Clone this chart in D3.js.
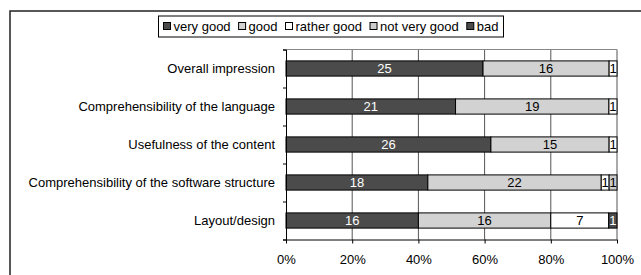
<!DOCTYPE html>
<html>
<head>
<meta charset="utf-8">
<script src="https://cdn.jsdelivr.net/npm/d3@7"></script>
<style>
  body { margin: 0; background: #fff; }
  svg text { font-family: "Liberation Sans", Arial, sans-serif; font-size: 13px; fill: #000; }
</style>
</head>
<body>
<svg id="chart"></svg>
<script>
var categories = ["Overall impression", "Comprehensibility of the language", "Usefulness of the content",
                  "Comprehensibility of the software structure", "Layout/design"]
var seriesNames = ["very good", "good", "rather good", "not very good", "bad"]
var veryGood    = [25, 21, 26, 18, 16]
var good        = [16, 19, 15, 22, 16]
var ratherGood  = [1, 1, 1, 1, 7]
var notVeryGood = [0, 0, 0, 1, 0]
var bad         = [0, 0, 0, 0, 1]
var tickValues  = [0, 0.2, 0.4, 0.6, 0.8, 1]

var colors = ["#4b4b4b", "#d2d2d2", "#ffffff", "#cccccc", "#4b4b4b"]
var textColors = ["#fff", "#000", "#000", "#000", "#fff"]

var screen = {width: 641, height: 275}
var plot = {left: 286, right: 617, top: 49.5, bottom: 239.5}

var svg = d3.select("#chart")
    .attr("width", screen.width)
    .attr("height", screen.height)

// outer frame (cut off right and bottom in the original)
svg.append("rect")
    .attr("x", 10).attr("y", 11)
    .attr("width", 700).attr("height", 400)
    .attr("fill", "none")
    .attr("stroke", "#222")
    .attr("stroke-width", 1.5)

var rows = categories.map(function (c, i) {
    return {cat: c, vals: [veryGood[i], good[i], ratherGood[i], notVeryGood[i], bad[i]]}
})

var xScale = d3.scaleLinear().domain([0, 1]).range([plot.left, plot.right])
var yScale = d3.scaleBand().domain(categories)
    .range([plot.top, plot.bottom])
    .paddingInner(0.6).paddingOuter(0.3)

// gridlines
svg.append("g").selectAll("line")
    .data(tickValues.slice(1))
    .enter().append("line")
    .attr("x1", function (d) { return xScale(d) })
    .attr("x2", function (d) { return xScale(d) })
    .attr("y1", plot.top).attr("y2", plot.bottom)
    .attr("stroke", "#555")
svg.append("line")
    .attr("x1", plot.left).attr("x2", plot.right)
    .attr("y1", plot.top).attr("y2", plot.top)
    .attr("stroke", "#888")

// stacked bars
var bars = svg.append("g")
rows.forEach(function (r) {
    var total = d3.sum(r.vals)
    var acc = 0
    r.vals.forEach(function (v, k) {
        if (v === 0) return
        var x0 = xScale(acc / total), x1 = xScale((acc + v) / total)
        acc += v
        bars.append("rect")
            .attr("x", x0).attr("y", yScale(r.cat))
            .attr("width", x1 - x0).attr("height", yScale.bandwidth())
            .attr("fill", colors[k])
            .attr("stroke", "#000").attr("stroke-width", 1)
        bars.append("text")
            .attr("x", (x0 + x1) / 2)
            .attr("y", yScale(r.cat) + yScale.bandwidth() / 2)
            .attr("dy", "0.36em")
            .attr("text-anchor", "middle")
            .style("fill", textColors[k])
            .text(v)
    })
})

// axes
var yAxis = d3.axisLeft(d3.scaleLinear().domain([0, 5]).range([plot.top, plot.bottom]))
    .ticks(5).tickSize(3).tickFormat("")
var ya = svg.append("g").attr("transform", "translate(" + plot.left + ",0)").call(yAxis)
ya.select(".domain").attr("stroke", "#000")

var xAxis = d3.axisBottom(xScale).tickValues(tickValues).tickSize(4)
    .tickFormat(d3.format(".0%"))
var xa = svg.append("g").attr("transform", "translate(0," + plot.bottom + ")").call(xAxis)
xa.select(".domain").attr("d", "M" + plot.left + ",0.5H" + plot.right)
xa.selectAll("text").attr("y", 15).style("font-size", "13px").style("font-family", "Liberation Sans, Arial, sans-serif")

// category labels
svg.append("g").selectAll("text")
    .data(categories)
    .enter().append("text")
    .attr("x", 275)
    .attr("y", function (d) { return yScale(d) + yScale.bandwidth() / 2 })
    .attr("dy", "0.36em")
    .attr("text-anchor", "end")
    .text(function (d) { return d })

// legend
var legend = svg.append("g")
var box = legend.append("rect").attr("fill", "#fff").attr("stroke", "#000")
var lx = 0
seriesNames.forEach(function (name, k) {
    legend.append("rect")
        .attr("x", lx).attr("y", -3.5).attr("width", 7).attr("height", 7)
        .attr("fill", colors[k]).attr("stroke", "#000")
    var t = legend.append("text")
        .attr("x", lx + 10).attr("y", 0).attr("dy", "0.36em")
        .text(name)
    lx += 10 + t.node().getComputedTextLength() + 8
})
var lw = lx - 8 + 10
var lstart = 331 - lw / 2
legend.attr("transform", "translate(" + (lstart + 5) + ",26)")
box.attr("x", -5).attr("y", -10).attr("width", lw).attr("height", 21)
</script>
</body>
</html>
